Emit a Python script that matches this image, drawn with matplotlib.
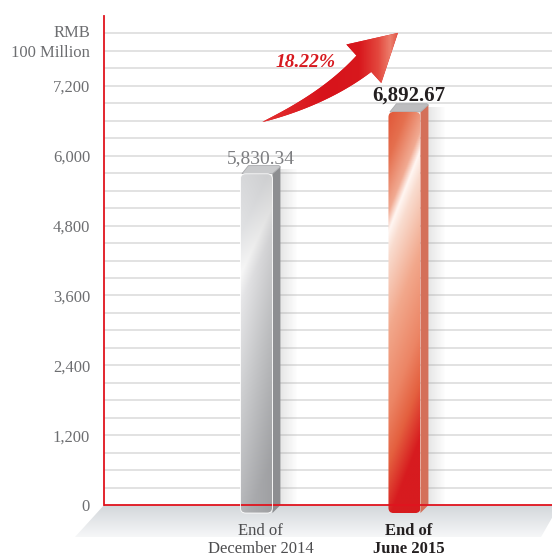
import numpy as np
import matplotlib
matplotlib.use('Agg')
from matplotlib import pyplot as plt
from matplotlib.patches import Polygon, FancyBboxPatch
from matplotlib.colors import to_rgb

# data
categories = ['End of\nDecember 2014', 'End of\nJune 2015']
values = [5830.34, 6892.67]
value_labels = ['5,830.34', '6,892.67']
growth_label = '18.22%'
yticks = [0, 1200, 2400, 3600, 4800, 6000, 7200]
ytick_labels = ['0', '1,200', '2,400', '3,600', '4,800', '6,000', '7,200']
unit_label = ['RMB', '100 Million']

plt.rcParams['font.family'] = ['Liberation Serif', 'DejaVu Serif']

W, H = 552, 557
fig = plt.figure(figsize=(W / 100, H / 100), dpi=100)

# floor (perspective base under the plot)
fax = fig.add_axes([75 / W, (H - 537) / H, (W - 75) / W, 32 / H])
fax.set_xlim(0, 1)
fax.set_ylim(0, 1)
fax.axis('off')
floor = Polygon([(0.061, 1), (1, 1), (1, 0.6), (0.977, 0), (0, 0)],
                closed=True, facecolor='none', edgecolor='none')
fax.add_patch(floor)
fy = np.linspace(0, 1, 64)[:, None]
fgrad = np.ones((64, 2, 3))
c_top, c_bot = np.array(to_rgb('#d3d7db')), np.array(to_rgb('#f6f7f8'))
fgrad[:] = (c_top * fy + c_bot * (1 - fy))[:, None, :]
im = fax.imshow(fgrad, extent=[0, 1, 0, 1], origin='lower', aspect='auto')
im.set_clip_path(floor)

# main axes
ax = fig.add_axes([104 / W, (H - 540) / H, (W - 104) / W, 524 / H])
ax.set_zorder(2)
ax.patch.set_alpha(0)
ax.set_xlim(-1.03, 1.997)
ax.set_ylim(-600, 8400)

for s in ['top', 'right', 'bottom']:
    ax.spines[s].set_visible(False)
ax.spines['left'].set_color('#e0141e')
ax.spines['left'].set_linewidth(1.3)
ax.spines['left'].set_bounds(0, 8400)
ax.axhline(0, color='#e0141e', lw=1.3, zorder=3)

for g in np.arange(300, 8101, 300):
    ax.axhline(g, color='#dadada', lw=1.1, zorder=0)

ax.set_yticks(yticks)
ax.set_yticklabels(ytick_labels)
ax.tick_params(axis='y', length=0, pad=10, labelsize=12, labelcolor='#6d6e71')
ax.set_xticks([])

ax.annotate(unit_label[0], xy=(0, 8100), xycoords=('axes fraction', 'data'),
            xytext=(-10, 0), textcoords='offset points', ha='right', va='center',
            fontsize=12, color='#6d6e71')
ax.annotate(unit_label[1], xy=(0, 7760), xycoords=('axes fraction', 'data'),
            xytext=(-10, 0), textcoords='offset points', ha='right', va='center',
            fontsize=12, color='#6d6e71')


def ramp(stops, t):
    pos = [p for p, c in stops]
    cols = np.array([to_rgb(c) for p, c in stops])
    return np.stack([np.interp(t, pos, cols[:, k]) for k in range(3)], axis=-1)


def front_colors(kind, ny=200, nx=40):
    u = np.linspace(0, 1, ny)[:, None]   # 0 at top
    xn = np.linspace(0, 1, nx)[None, :]
    d = u - (0.30 - 0.20 * xn)
    if kind == 'red':
        above = ramp([(-0.35, '#df4c2e'), (-0.18, '#e5704f'), (-0.05, '#f1aa92'), (0, '#fff6f2')], d)
        below = ramp([(0, '#fff6f2'), (0.06, '#f9dccf'), (0.25, '#f2a88c'), (0.45, '#ec8565'),
                      (0.58, '#e4603f'), (0.72, '#d71b1f')], d)
        rgb = np.where((d < 0)[..., None], above, below)
    else:
        above = ramp([(-0.35, '#d4d5d7'), (-0.12, '#e2e3e5'), (0, '#f8f8f8')], d)
        below = ramp([(0, '#f8f8f8'), (0.08, '#e7e7e9'), (0.35, '#d0d1d3'), (0.75, '#b1b2b5')], d)
        rgb = np.where((d < 0)[..., None], above, below)
        rgb = rgb * (1 - 0.10 * xn)[..., None]
    return np.clip(rgb, 0, 1)


w = 0.216        # front width
dp = 0.054       # depth of side face
cap = 140        # cap height in data units
base = -137      # bars stand slightly into the floor
aspect = (9000 / 524) * 148

styles = [('gray', '#8d8e91', '#c9cacc', '#7d7e81', 'normal', 14, '#4d4d4f'),
          ('red', '#d4705a', '#bdbdbf', '#231f20', 'bold', 15, '#231f20')]

for i, (cat, v) in enumerate(zip(categories, values)):
    kind, side_c, cap_c, lab_c, fw, fs, cat_c = styles[i]
    x0 = i - w / 2
    t = v - cap

    # soft shadow right of the bar
    sh = np.zeros((2, 30, 4))
    sh[..., :3] = 0.55
    sh[..., 3] = np.linspace(0.22, 0, 30)[None, :]
    ax.imshow(sh, extent=[x0 + w + dp, x0 + w + dp + 0.12, 0, v - 60],
              origin='lower', aspect='auto', zorder=1)

    side = Polygon([(x0 + w, t), (x0 + w + dp, v - 20), (x0 + w + dp, 0), (x0 + w, base)],
                   closed=True, facecolor=side_c, edgecolor='none', zorder=2)
    ax.add_patch(side)
    top = Polygon([(x0 + 0.01, t), (x0 + dp, v), (x0 + w + dp - 0.01, v), (x0 + w + dp, v - 20),
                   (x0 + w, t)], closed=True, facecolor=cap_c, edgecolor='#a9aaad',
                  lw=0.6, zorder=2)
    ax.add_patch(top)

    front = FancyBboxPatch((x0, base), w, t - base,
                           boxstyle='round,pad=0,rounding_size=0.035',
                           mutation_aspect=aspect, facecolor='none',
                           edgecolor='#ffffff' if kind == 'gray' else 'none',
                           lw=0.6, zorder=3)
    ax.add_patch(front)
    img = ax.imshow(front_colors(kind), extent=[x0, x0 + w, base, t],
                    origin='upper', aspect='auto', zorder=2.5)
    img.set_clip_path(front)

    ax.annotate(value_labels[i], xy=(i + dp / 2, v), xytext=(0, -1),
                textcoords='offset points', ha='center', va='bottom',
                fontsize=fs, fontweight=fw, color=lab_c)
    ax.annotate(cat, xy=(i + dp / 2, 0), xytext=(0, -13),
                textcoords='offset points', ha='center', va='top',
                fontsize=12, fontweight=fw, color=cat_c, linespacing=1.15)

ax.set_xlim(-1.03, 1.997)
ax.set_ylim(-600, 8400)

# growth arrow: tapered curved shaft + head, built in display pixels
p_start = ax.transData.transform((0.04, 6580))
p_tip = ax.transData.transform((0.956, 8110))
hdir = np.array([0.74, 0.67])
hdir = hdir / np.hypot(*hdir)
perp = np.array([-hdir[1], hdir[0]])
b = p_tip - 46 * hdir
ctrl = b - 52 * hdir
s = np.linspace(0, 1, 60)[:, None]
curve = (1 - s) ** 2 * p_start + 2 * (1 - s) * s * ctrl + s ** 2 * b
tang = 2 * (1 - s) * (ctrl - p_start) + 2 * s * (b - ctrl)
tang = tang / np.hypot(tang[:, 0], tang[:, 1])[:, None]
nrm = np.stack([-tang[:, 1], tang[:, 0]], axis=1)
half = 11 * s ** 0.85
upper = curve + nrm * half
lower = curve - nrm * half
pts = np.vstack([upper, [b + 26 * perp, p_tip, b - 26 * perp], lower[::-1]])
pts_data = ax.transData.inverted().transform(pts)
arrow = Polygon(pts_data, closed=True, facecolor='#d9161c', edgecolor='none', zorder=4)
ax.add_patch(arrow)
ax_min = pts_data.min(axis=0)
ax_max = pts_data.max(axis=0)
ag = ramp([(0, '#e43030'), (0.45, '#d7131b'), (0.72, '#d8181d'), (0.86, '#e3483e'),
           (0.95, '#ec7e6c'), (1, '#e35a4a')], np.linspace(0, 1, 80))[None, :, :]
aimg = ax.imshow(np.repeat(ag, 2, axis=0), extent=[ax_min[0], ax_max[0], ax_min[1], ax_max[1]],
                 origin='lower', aspect='auto', zorder=4.1)
aimg.set_clip_path(arrow)
ax.text(0.33, 7600, growth_label, ha='center', va='center', fontsize=14,
        fontweight='bold', style='italic', color='#d7191f', zorder=5)

ax.set_xlim(-1.03, 1.997)
ax.set_ylim(-600, 8400)

fig.savefig('out.png', dpi=100)
